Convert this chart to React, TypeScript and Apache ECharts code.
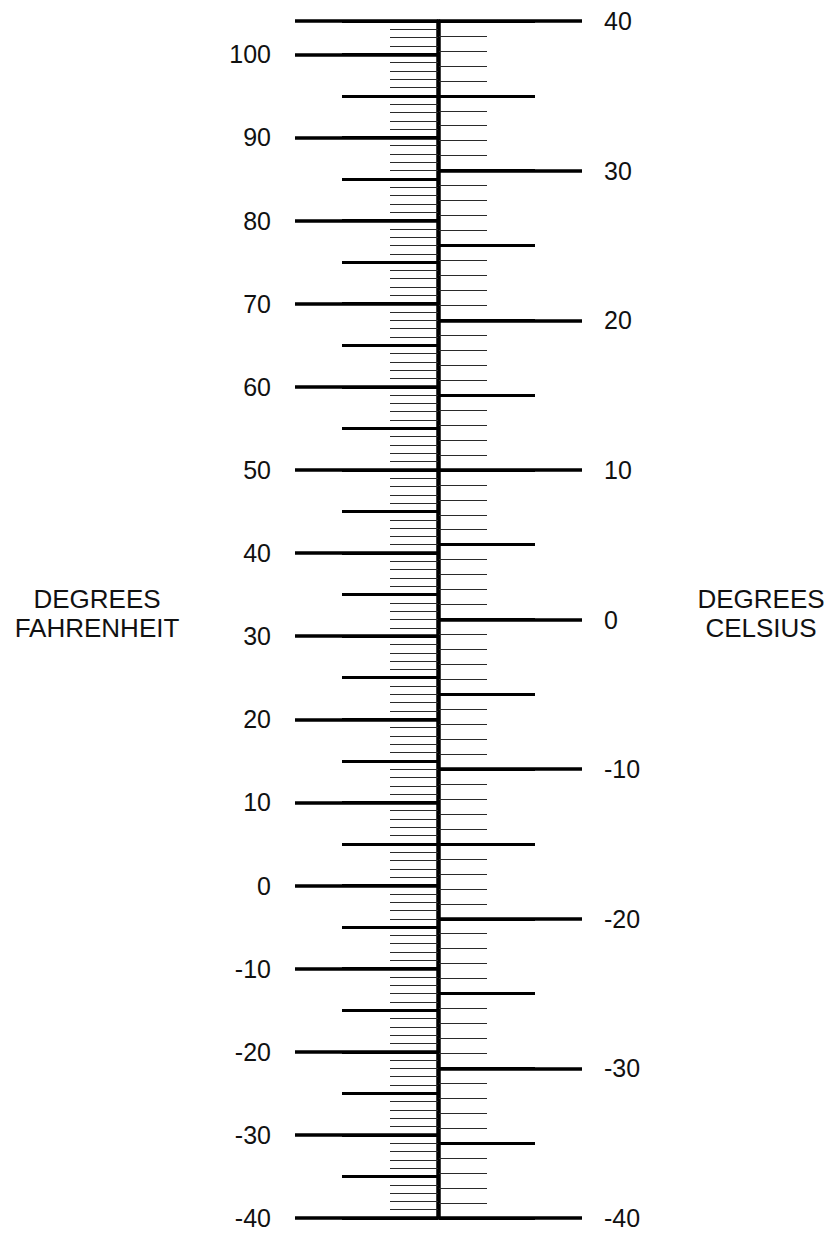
import React, { useEffect, useRef } from "react";
import * as echarts from "echarts";

// Scale ranges (the two scales share the same physical extent: -40°F = -40°C, 104°F = 40°C)
const fahrenheitRange = [-40, 104];
const celsiusRange = [-40, 40];

// Labelled tick values
const fahrenheitLabels = [-40, -30, -20, -10, 0, 10, 20, 30, 40, 50, 60, 70, 80, 90, 100];
const celsiusLabels = [-40, -30, -20, -10, 0, 10, 20, 30, 40];

// Tick step sizes: minor, medium, major
const tickSteps = [1, 5, 10];

// Axis titles
const fahrenheitTitle = ["DEGREES", "FAHRENHEIT"];
const celsiusTitle = ["DEGREES", "CELSIUS"];

const FONT = "'Liberation Sans', Arial, Helvetica, sans-serif";

export default function App() {
  const ref = useRef<HTMLDivElement>(null);

  useEffect(() => {
    if (!ref.current) return;
    const chart = echarts.init(ref.current, undefined, { renderer: "svg" });

    const tickLen = [48, 96, 143];
    const tickWidth = [1, 3, 3.5];
    const tickColor = ["#2a2a2a", "#000", "#000"];

    const makeAxis = (
      side: "left" | "right",
      range: number[],
      labels: number[],
      idx: number
    ) => ({
      type: "value",
      position: side,
      min: range[0],
      max: range[1],
      interval: tickSteps[idx],
      axisLine: {
        show: idx === 0,
        lineStyle: { color: "#000", width: 3.5 },
      },
      axisTick: {
        show: true,
        length: tickLen[idx],
        lineStyle: { color: tickColor[idx], width: tickWidth[idx] },
      },
      splitLine: { show: false },
      axisLabel: {
        show: idx === 2,
        margin: side === "left" ? 167 : 165,
        color: "#111",
        fontSize: 25,
        lineHeight: 20,
        fontFamily: FONT,
        showMinLabel: true,
        showMaxLabel: true,
        formatter: (v: number) => (labels.indexOf(v) >= 0 ? String(v) : ""),
      },
    });

    const yAxes: any[] = [];
    for (let i = 0; i < 3; i++) yAxes.push(makeAxis("left", fahrenheitRange, fahrenheitLabels, i));
    for (let i = 0; i < 3; i++) yAxes.push(makeAxis("right", celsiusRange, celsiusLabels, i));

    const titleText = (lines: string[], x: number) =>
      lines.map((t, i) => ({
        type: "text",
        x,
        y: 612 + i * 29,
        style: {
          text: t,
          fill: "#111",
          font: `26px ${FONT}`,
          textAlign: "center",
          textVerticalAlign: "bottom",
        },
      }));

    chart.setOption({
      animation: false,
      backgroundColor: "#fff",
      grid: { left: 438, width: 1, top: 21, bottom: 15, containLabel: false },
      xAxis: { type: "value", show: false, min: 0, max: 1 },
      yAxis: yAxes,
      series: [],
      graphic: [...titleText(fahrenheitTitle, 97), ...titleText(celsiusTitle, 761)],
    });

    return () => chart.dispose();
  }, []);

  return (
    <div
      ref={ref}
      style={{ position: "fixed", left: 0, top: 0, width: 830, height: 1233, background: "#fff" }}
    />
  );
}
